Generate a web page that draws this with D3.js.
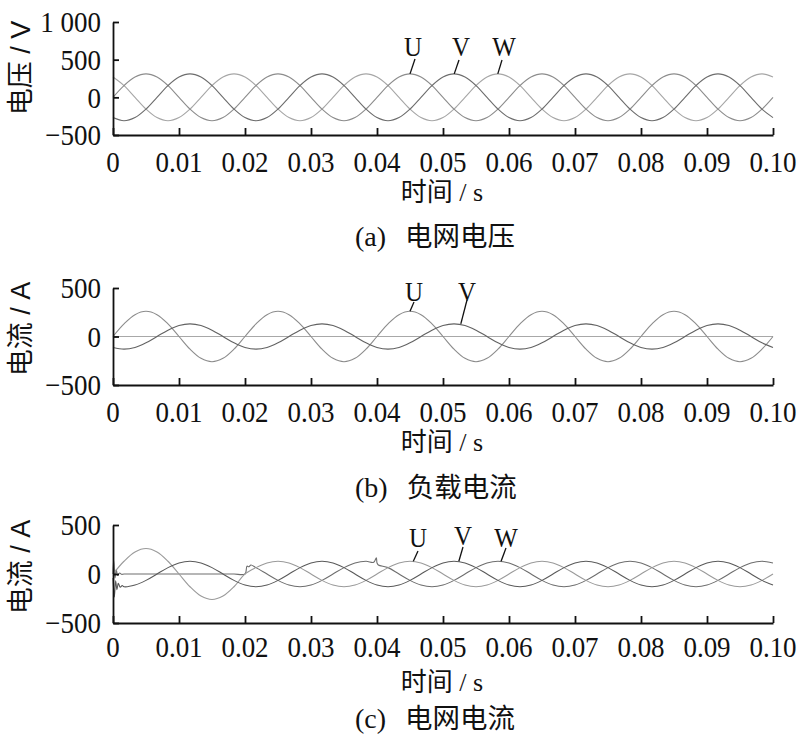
<!DOCTYPE html>
<html><head><meta charset="utf-8">
<script src="https://cdn.jsdelivr.net/npm/d3@7"></script>
<style>
html,body{margin:0;padding:0;background:#fff;}
svg{display:block;}
</style></head>
<body>
<svg id="chart" width="800" height="743"></svg>
<script>
// ---------------- DATA ----------------
const timeStep = 0.02 / 12;                       // sampling interval, s
const timeGrid = d3.range(61).map(i => i * timeStep);
const xTicks = [0,0.01,0.02,0.03,0.04,0.05,0.06,0.07,0.08,0.09,0.10];
const xTickLabels = ["0","0.01","0.02","0.03","0.04","0.05","0.06","0.07","0.08","0.09","0.10"];
const yTicksA = [-500,0,500,1000];
const yTickLabelsA = ["\u2212500","0","500","1 000"];
const yTicksBC = [-500,0,500];
const yTickLabelsBC = ["\u2212500","0","500"];

// (a) grid voltage, V
const voltU = [0,156,269,311,269,156,0,-156,-269,-311,-269,-156,
  0,156,269,311,269,156,0,-156,-269,-311,-269,-156,
  0,156,269,311,269,156,0,-156,-269,-311,-269,-156,
  0,156,269,311,269,156,0,-156,-269,-311,-269,-156,
  0,156,269,311,269,156,0,-156,-269,-311,-269,-156,0];
const voltV = [-269,-311,-269,-156,0,156,269,311,269,156,0,-156,
  -269,-311,-269,-156,0,156,269,311,269,156,0,-156,
  -269,-311,-269,-156,0,156,269,311,269,156,0,-156,
  -269,-311,-269,-156,0,156,269,311,269,156,0,-156,
  -269,-311,-269,-156,0,156,269,311,269,156,0,-156,-269];
const voltW = [269,156,0,-156,-269,-311,-269,-156,0,156,269,311,
  269,156,0,-156,-269,-311,-269,-156,0,156,269,311,
  269,156,0,-156,-269,-311,-269,-156,0,156,269,311,
  269,156,0,-156,-269,-311,-269,-156,0,156,269,311,
  269,156,0,-156,-269,-311,-269,-156,0,156,269,311,269];

// (b) load current, A
const loadU = [0,130,225,260,225,130,0,-130,-225,-260,-225,-130,
  0,130,225,260,225,130,0,-130,-225,-260,-225,-130,
  0,130,225,260,225,130,0,-130,-225,-260,-225,-130,
  0,130,225,260,225,130,0,-130,-225,-260,-225,-130,
  0,130,225,260,225,130,0,-130,-225,-260,-225,-130,0];
const loadV = [-113,-130,-113,-65,0,65,113,130,113,65,0,-65,
  -113,-130,-113,-65,0,65,113,130,113,65,0,-65,
  -113,-130,-113,-65,0,65,113,130,113,65,0,-65,
  -113,-130,-113,-65,0,65,113,130,113,65,0,-65,
  -113,-130,-113,-65,0,65,113,130,113,65,0,-65,-113];
const loadWTime = [0, 0.1];
const loadW = [0, 0];

// (c) grid current, A
const gridU = [0,130,225,260,225,130,0,-130,-225,-260,-225,-130,0,
  65,113,130,113,65,0,-65,-113,-130,-113,-65,
  0,65,113,130,113,65,0,-65,-113,-130,-113,-65,
  0,65,113,130,113,65,0,-65,-113,-130,-113,-65,
  0,65,113,130,113,65,0,-65,-113,-130,-113,-65,0];
const gridV = [-40,-130,-113,-65,0,65,113,130,113,65,0,-65,
  -113,-130,-113,-65,0,65,113,130,113,65,0,-65,
  -113,-130,-113,-65,0,65,113,130,113,65,0,-65,
  -113,-130,-113,-65,0,65,113,130,113,65,0,-65,
  -113,-130,-113,-65,0,65,113,130,113,65,0,-65,-113];
const gridVTransient = [[0.0002,-235],[0.0004,-70],[0.0006,-160],[0.0008,-95],[0.0011,-135],[0.0014,-118]];
const gridW = [0,0,0,0,0,0,0,0,0,0,0,0,0,
  65,0,-65,-113,-130,-113,-65,0,65,113,130,
  113,65,0,-65,-113,-130,-113,-65,0,65,113,130,
  113,65,0,-65,-113,-130,-113,-65,0,65,113,130,
  113,65,0,-65,-113,-130,-113,-65,0,65,113,130,113];
const gridWTransient = [[0.0001,140],[0.0003,-40],[0.0005,45],[0.0007,-15],[0.001,10],[0.0013,-3],
  [0.0203,80],[0.0206,74],[0.0209,92],[0.0395,120],[0.0399,165],[0.0402,92]];

// ---------------- BUILD ----------------
const onGrid = vals => vals.map((v,i) => [timeGrid[i], v]);
const merge = (a, b) => a.concat(b).sort((p,q) => p[0]-q[0]);

const panels = [
  { top:22, bottom:135, domain:[-500,1000], ticks:yTicksA, tickLabels:yTickLabelsA,
    ylabel:"电压 / V", ylabelY:68, tickLabelY:172, xlabelY:201, captionY:246,
    tag:"(a)", caption:"电网电压",
    series:[
      {pts:onGrid(voltW), color:"#a6a6a6"},
      {pts:onGrid(voltU), color:"#8c8c8c"},
      {pts:onGrid(voltV), color:"#6c6c6c"}],
    labels:[{t:"U", tip:[0.045,311], tx:413, ty:56, lx:415, ly:59},
            {t:"V", tip:[0.0517,311], tx:461, ty:56, lx:459, ly:60},
            {t:"W", tip:[0.0583,311], tx:504, ty:56, lx:502, ly:60}] },
  { top:288, bottom:385, domain:[-500,500], ticks:yTicksBC, tickLabels:yTickLabelsBC,
    ylabel:"电流 / A", ylabelY:329, tickLabelY:422, xlabelY:451, captionY:497,
    tag:"(b)", caption:"负载电流",
    series:[
      {pts:loadWTime.map((t,i)=>[t, loadW[i]]), color:"#a8a8a8"},
      {pts:onGrid(loadU), color:"#8c8c8c"},
      {pts:onGrid(loadV), color:"#626262"}],
    labels:[{t:"U", tip:[0.045,260], tx:414, ty:301, lx:414, ly:302},
            {t:"V", tip:[0.0527,130], tx:467, ty:301, lx:467, ly:300}] },
  { top:525, bottom:623, domain:[-500,500], ticks:yTicksBC, tickLabels:yTickLabelsBC,
    ylabel:"电流 / A", ylabelY:567, tickLabelY:657, xlabelY:691, captionY:728,
    tag:"(c)", caption:"电网电流",
    series:[
      {pts:merge(onGrid(gridW), gridWTransient), color:"#6e6e6e"},
      {pts:onGrid(gridU), color:"#9a9a9a"},
      {pts:merge(onGrid(gridV), gridVTransient), color:"#5a5a5a"}],
    labels:[{t:"U", tip:[0.0455,130], tx:418, ty:547, lx:418, ly:551},
            {t:"V", tip:[0.0524,130], tx:463, ty:545, lx:463, ly:547},
            {t:"W", tip:[0.0588,130], tx:506, ty:547, lx:506, ly:548}] }
];

const svg = d3.select("#chart");
const x = d3.scaleLinear().domain([0,0.1]).range([113,773]);
const serif = "'Liberation Serif','Times New Roman','Noto Sans CJK SC',serif";
const sans = "'Liberation Sans',Arial,'Noto Sans CJK SC',sans-serif";
const stretch = 1.1;   // vertical stretch of the serif numerals

panels.forEach(p => {
  const y = d3.scaleLinear().domain(p.domain).range([p.bottom, p.top]);
  const g = svg.append("g");

  const line = d3.line().x(d => x(d[0])).y(d => y(d[1])).curve(d3.curveCatmullRom.alpha(0.5));
  p.series.forEach(s => {
    g.append("path").attr("d", line(s.pts)).attr("fill","none")
      .attr("stroke", s.color).attr("stroke-width", 1.1);
  });

  // axes
  const xAxis = d3.axisBottom(x).tickValues(xTicks).tickSizeInner(-7).tickSizeOuter(0).tickFormat(() => "");
  const gx = g.append("g").attr("transform", `translate(0,${p.bottom})`).call(xAxis);
  const yAxis = d3.axisLeft(y).tickValues(p.ticks).tickSizeInner(-6).tickSizeOuter(0).tickFormat(() => "");
  const gy = g.append("g").attr("transform", `translate(113,0)`).call(yAxis);
  [gx, gy].forEach(a => {
    a.select(".domain").attr("stroke","#111").attr("stroke-width",1.8);
    a.selectAll(".tick line").attr("stroke","#111").attr("stroke-width",1.8);
  });

  // tick labels
  g.selectAll(".xtl").data(xTicks).join("text")
    .attr("transform", d => `translate(${x(d)},${p.tickLabelY}) scale(1,${stretch})`)
    .attr("text-anchor","middle")
    .attr("font-family", serif).attr("font-size", 27).attr("fill","#111")
    .text((d,i) => xTickLabels[i]);
  g.selectAll(".ytl").data(p.ticks).join("text")
    .attr("transform", d => `translate(101,${y(d)}) scale(1,${stretch})`)
    .attr("dy","0.35em").attr("text-anchor","end")
    .attr("font-family", serif).attr("font-size", 27).attr("fill","#111")
    .text((d,i) => p.tickLabels[i]);

  // axis titles
  g.append("text").attr("transform", `translate(30,${p.ylabelY}) rotate(-90)`)
    .attr("text-anchor","middle").attr("font-family", sans).attr("font-size", 27).attr("fill","#111")
    .text(p.ylabel);
  g.append("text").attr("x", 442).attr("y", p.xlabelY).attr("text-anchor","middle")
    .attr("font-family", serif).attr("font-size", 26).attr("fill","#111")
    .text("时间 / s");

  // caption
  const cap = g.append("text").attr("x", 355).attr("y", p.captionY)
    .attr("font-family", serif).attr("fill","#111");
  cap.append("tspan").attr("font-size", 28).text(p.tag);
  cap.append("tspan").attr("dx", 19).attr("font-size", 27.5).text(p.caption);

  // series labels with leader lines
  p.labels.forEach(l => {
    g.append("line").attr("x1", x(l.tip[0])).attr("y1", y(l.tip[1]))
      .attr("x2", l.lx).attr("y2", l.ly).attr("stroke","#111").attr("stroke-width",1.3);
    g.append("text").attr("transform", `translate(${l.tx},${l.ty}) scale(1,${stretch})`)
      .attr("text-anchor","middle")
      .attr("font-family", serif).attr("font-size", 25).attr("fill","#111").text(l.t);
  });
});
</script>
</body></html>
